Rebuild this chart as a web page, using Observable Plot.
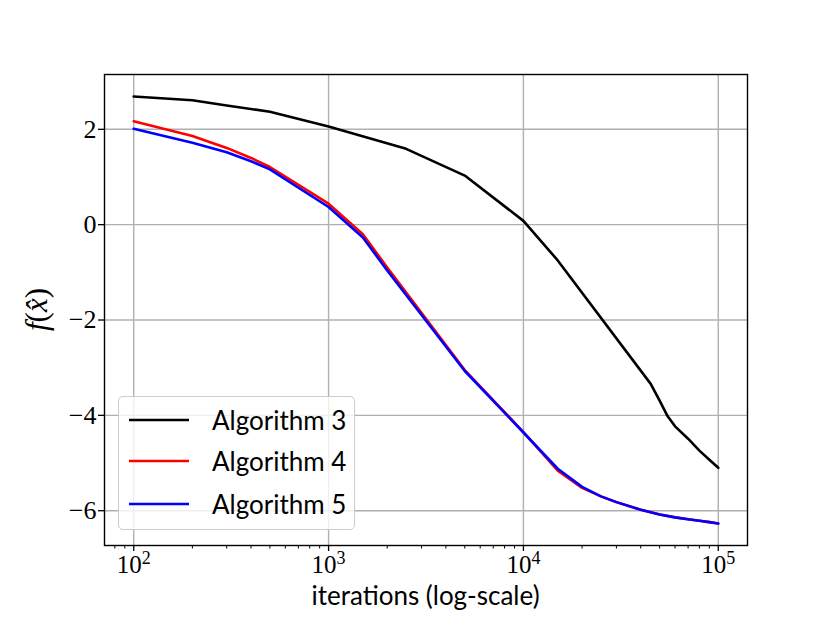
<!DOCTYPE html>
<html>
<head>
<meta charset="utf-8">
<script src="https://cdn.jsdelivr.net/npm/d3@7"></script>
<script src="https://cdn.jsdelivr.net/npm/@observablehq/plot@0.6"></script>
<style>
  html, body { margin: 0; padding: 0; background: white; }
  #wrap { position: relative; width: 830px; height: 623px; }
  #legend {
    position: absolute; left: 118px; top: 396px; width: 237px; height: 134px;
    box-sizing: border-box; border: 1.3px solid #cccccc; border-radius: 5px;
    background: rgba(255,255,255,0.8);
    font-family: Lato, "Open Sans", sans-serif; font-size: 26px; color: #000;
  }
  .entry { position: absolute; left: 0; height: 30px; display: flex; align-items: center; }
  .entry svg { margin-left: 10px; }
  .entry span { margin-left: 23px; white-space: nowrap; }
</style>
</head>
<body>
<div id="wrap"></div>
<script>
// ---- data ----
const iters3 = [100, 200, 300, 500, 1000, 2500, 5000, 10000, 15000, 45000, 50000, 55000, 60000, 70000, 80000, 90000, 100000];
const alg3   = [2.69, 2.61, 2.50, 2.37, 2.06, 1.59, 1.03, 0.08, -0.75, -3.34, -3.69, -4.02, -4.23, -4.49, -4.74, -4.93, -5.10];

const iters45 = [100, 200, 300, 400, 500, 1000, 1500, 2000, 5000, 10000, 15000, 20000, 25000, 30000, 40000, 50000, 60000, 70000, 80000, 90000, 100000];
const alg4    = [2.17, 1.86, 1.61, 1.40, 1.21, 0.44, -0.20, -0.90, -3.05, -4.35, -5.16, -5.52, -5.70, -5.82, -5.98, -6.08, -6.14, -6.18, -6.21, -6.24, -6.27];
const alg5    = [2.01, 1.72, 1.52, 1.33, 1.16, 0.37, -0.27, -0.96, -3.07, -4.36, -5.12, -5.50, -5.70, -5.82, -5.98, -6.08, -6.14, -6.18, -6.21, -6.24, -6.27];

const seriesNames  = ["Algorithm 3", "Algorithm 4", "Algorithm 5"];
const seriesColors = ["#000000", "#ff0000", "#0000ff"];

const xTicks = [100, 1000, 10000, 100000];
const xTickExp = ["2", "3", "4", "5"];
const xMinorTicks = [80, 90, 200, 300, 400, 500, 600, 700, 800, 900,
                     2000, 3000, 4000, 5000, 6000, 7000, 8000, 9000,
                     20000, 30000, 40000, 50000, 60000, 70000, 80000, 90000];
const yTicks = [2, 0, -2, -4, -6];

const xLabel = "iterations (log-scale)";

// ---- tables built from arrays ----
const rows3 = iters3.map((x, i) => ({x, y: alg3[i]}));
const rows4 = iters45.map((x, i) => ({x, y: alg4[i]}));
const rows5 = iters45.map((x, i) => ({x, y: alg5[i]}));

const serif = "'Liberation Serif', 'DejaVu Serif', serif";
const sans = "Lato, 'Open Sans', sans-serif";
const gridStyle = {stroke: "#b0b0b0", strokeOpacity: 1, strokeWidth: 1.4};

const chart = Plot.plot({
  width: 830, height: 623,
  marginLeft: 104, marginRight: 83, marginTop: 74, marginBottom: 78,
  style: {background: "white", overflow: "visible"},
  x: {type: "log", domain: [70.8, 141250]},
  y: {domain: [-6.73, 3.15]},
  marks: [
    Plot.gridX(xTicks, gridStyle),
    Plot.gridY(yTicks, gridStyle),
    Plot.line(rows3, {x: "x", y: "y", stroke: seriesColors[0], strokeWidth: 2.6}),
    Plot.line(rows4, {x: "x", y: "y", stroke: seriesColors[1], strokeWidth: 2.6}),
    Plot.line(rows5, {x: "x", y: "y", stroke: seriesColors[2], strokeWidth: 2.6}),
    Plot.axisX(xTicks, {tickSize: 6, tickPadding: 4, strokeWidth: 1.3, tickFormat: d => "10",
      fontSize: 25, fontFamily: serif, label: null}),
    Plot.axisX(xMinorTicks, {tickSize: 3.5, strokeWidth: 1, tickFormat: () => "", label: null}),
    Plot.axisY(yTicks, {tickSize: 6, tickPadding: 2, strokeWidth: 1.3,
      tickFormat: d => d < 0 ? "\u2212" + (-d) : String(d),
      fontSize: 26, fontFamily: serif, label: null}),
    Plot.frame({stroke: "black", strokeWidth: 1.4})
  ]
});

const svg = d3.select(chart);
svg.style("color", "black");
// superscript exponents for the x tick labels
svg.selectAll('g[aria-label="x-axis tick label"] text').each(function(d, i) {
  const t = d3.select(this);
  if (t.text() === "10") {
    const idx = xTicks.indexOf(d);
    t.append("tspan").attr("dy", "-0.5em").attr("font-size", "0.72em").text(xTickExp[idx >= 0 ? idx : i]);
  }
});
// axis titles
svg.append("text")
  .attr("x", 425.5).attr("y", 605)
  .attr("text-anchor", "middle")
  .attr("font-family", sans).attr("font-size", 26).attr("fill", "black")
  .text(xLabel);
const yl = svg.append("text")
  .attr("transform", "translate(47,309.5) rotate(-90)")
  .attr("text-anchor", "middle")
  .attr("font-family", serif).attr("font-size", 31).attr("fill", "black");
yl.append("tspan").attr("font-style", "italic").text("f");
yl.append("tspan").text("(");
yl.append("tspan").attr("font-style", "italic").text("x\u0302");
yl.append("tspan").text(")");

const wrap = document.getElementById("wrap");
wrap.appendChild(chart);

// legend
const legend = document.createElement("div");
legend.id = "legend";
const tops = [8, 49, 92];
seriesNames.forEach((name, i) => {
  const e = document.createElement("div");
  e.className = "entry";
  e.style.top = tops[i] + "px";
  e.innerHTML = `<svg width="60" height="6"><line x1="0" x2="60" y1="3" y2="3" stroke="${seriesColors[i]}" stroke-width="2.6"/></svg><span>${name}</span>`;
  legend.appendChild(e);
});
wrap.appendChild(legend);
</script>
</body>
</html>
